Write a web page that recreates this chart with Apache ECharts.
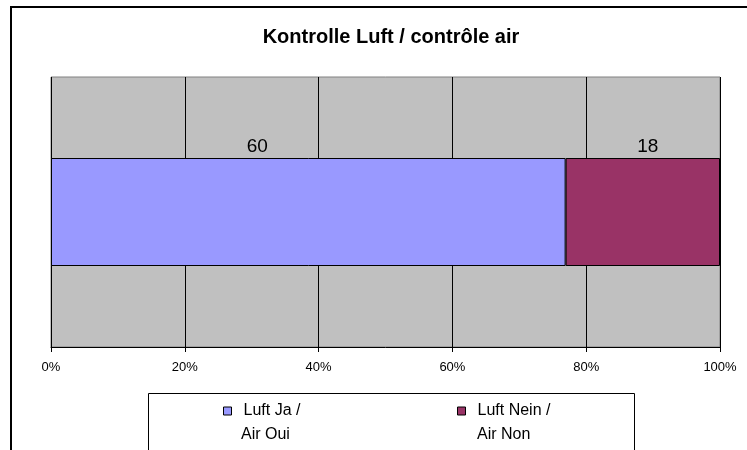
<!DOCTYPE html>
<html>
<head>
<meta charset="utf-8">
<script src="https://cdn.jsdelivr.net/npm/echarts@6/dist/echarts.min.js"></script>
<style>
  html, body { margin: 0; padding: 0; background: #fff; }
  #chart { width: 747px; height: 450px; }
</style>
</head>
<body>
<div id="chart"></div>
<script>
// data
var categories = ['Kontrolle Luft'];
var seriesNames = ['Luft Ja / Air Oui', 'Luft Nein / Air Non'];
var luftJa = [60];
var luftNein = [18];
var tickLabels = ['0%', '20%', '40%', '60%', '80%', '100%'];

var totals = luftJa.map(function (v, i) { return v + luftNein[i]; });
function share(arr) {
  return arr.map(function (v, i) { return { value: v / totals[i] * 100, raw: v }; });
}

var chart = echarts.init(document.getElementById('chart'));
var font = 'Liberation Sans, Arial, sans-serif';

// legend shows first half of the name next to the swatch, second half goes on the next line
function legendFor(name, left) {
  return {
    data: [name],
    left: left,
    top: 403,
    padding: 0,
    icon: 'rect',
    itemWidth: 8,
    itemHeight: 8,
    selectedMode: false,
    itemStyle: { borderColor: '#000', borderWidth: 1 },
    formatter: function (n) { return n.split(' / ')[0] + ' /'; },
    textStyle: { fontFamily: font, fontSize: 16, color: '#000', padding: [0, 0, 0, 7] }
  };
}
function secondLine(name, x) {
  return {
    type: 'text', x: x, y: 435,
    style: { text: name.split(' / ')[1], font: '16px ' + font, fill: '#000', verticalAlign: 'middle' }
  };
}

chart.setOption({
  backgroundColor: '#fff',
  animation: false,
  title: {
    text: 'Kontrolle Luft / contrôle air',
    left: 386,
    textAlign: 'center',
    top: 22,
    textStyle: { fontFamily: font, fontSize: 20, fontWeight: 'bold', color: '#000' }
  },
  graphic: [
    { type: 'rect', shape: { x: 11, y: 7, width: 780, height: 500 }, style: { fill: 'none', stroke: '#000', lineWidth: 2 }, z: -1 },
    { type: 'rect', shape: { x: 148.5, y: 393.5, width: 486, height: 80 }, style: { fill: '#fff', stroke: '#000', lineWidth: 1 }, z: -1 },
    secondLine(seriesNames[0], 241),
    secondLine(seriesNames[1], 477)
  ],
  legend: [legendFor(seriesNames[0], 223), legendFor(seriesNames[1], 457)],
  grid: {
    left: 51, right: 27, top: 77, bottom: 103,
    show: true,
    backgroundColor: '#C0C0C0',
    borderColor: '#808080',
    borderWidth: 1
  },
  xAxis: {
    type: 'value',
    min: 0, max: 100, interval: 20,
    axisLine: { show: true, lineStyle: { color: '#000', width: 1 } },
    axisTick: { show: true, length: 5, lineStyle: { color: '#000' } },
    splitLine: { show: true, lineStyle: { color: '#000', width: 1 } },
    axisLabel: {
      margin: 14,
      fontFamily: font, fontSize: 13, color: '#000',
      formatter: function (v) { return tickLabels[Math.round(v / 20)]; }
    }
  },
  yAxis: {
    type: 'category',
    data: categories,
    axisLine: { show: false },
    axisTick: { show: false },
    axisLabel: { show: false }
  },
  series: [
    {
      name: seriesNames[0],
      type: 'bar',
      stack: 'total',
      barWidth: '40%',
      data: share(luftJa),
      itemStyle: { color: '#9999FF', borderColor: '#000', borderWidth: 1 },
      label: {
        show: true, position: 'top', distance: 2, offset: [-51, 0],
        fontFamily: font, fontSize: 19, color: '#000',
        formatter: function (p) { return p.data.raw; }
      }
    },
    {
      name: seriesNames[1],
      type: 'bar',
      stack: 'total',
      barWidth: '40%',
      data: share(luftNein),
      itemStyle: { color: '#993366', borderColor: '#000', borderWidth: 1 },
      label: {
        show: true, position: 'top', distance: 2, offset: [5, 0],
        fontFamily: font, fontSize: 19, color: '#000',
        formatter: function (p) { return p.data.raw; }
      }
    }
  ]
});
</script>
</body>
</html>
